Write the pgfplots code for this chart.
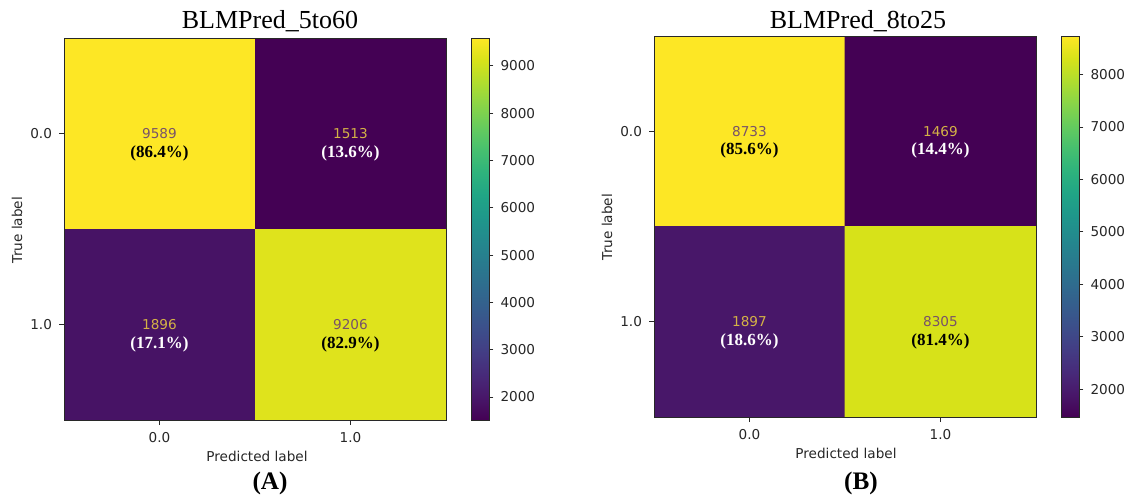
\documentclass[border=0pt]{standalone}
\usepackage{pgfplots}
\pgfplotsset{compat=1.18}
\usepackage{fontspec}
\setmainfont{Liberation Serif}
\newfontfamily\dejavu{DejaVu Sans}
\definecolor{cntdark}{RGB}{120,82,105}
\definecolor{cntlight}{RGB}{212,178,70}
\definecolor{spine}{RGB}{40,40,40}
\pgfplotsset{
  cmstyle/.style={
    scale only axis, width=191pt, height=191pt,
    anchor=south west,
    axis on top,
    colormap/viridis,
    xmin=-0.5, xmax=1.5, ymin=-0.5, ymax=1.5,
    y dir=reverse,
    xtick={0,1}, ytick={0,1},
    xticklabels={0.0,1.0}, yticklabels={0.0,1.0},
    xtick pos=bottom, ytick pos=left,
    tick align=outside, major tick length=2.5pt,
    tick style={spine, line width=0.4pt},
    axis line style={spine, line width=0.45pt},
    ticklabel style={font=\dejavu\fontsize{6.8}{8}\selectfont, text=black!85},
    /pgf/number format/assume math mode=true,
    /pgf/number format/1000 sep={},
    colorbar,
    colorbar style={
      scale only axis, width=9pt, height=191pt,
      at={(parent axis.north east)}, anchor=north west, xshift=4pt,
      axis on top,
      ytick={2000,3000,...,9000},
      ytick pos=right, yticklabel pos=right,
      tick align=outside, major tick length=2.2pt,
      tick style={spine, line width=0.4pt},
      axis line style={spine, line width=0.45pt},
      scaled y ticks=false,
      yticklabel style={font=\dejavu\fontsize{6.8}{8}\selectfont, text=black!85},
      /pgf/number format/assume math mode=true,
      /pgf/number format/1000 sep={},
    },
  },
  cnt/.style={only marks, mark=*, mark size=0pt, mark options={draw=none, fill=none},
    nodes near coords, point meta=explicit symbolic,
    nodes near coords style={anchor=center, inner sep=0pt, font=\dejavu\fontsize{6.8}{8}\selectfont, text=#1}},
  pct/.style={only marks, mark=*, mark size=0pt, mark options={draw=none, fill=none},
    nodes near coords, point meta=explicit symbolic,
    nodes near coords style={anchor=center, inner sep=0pt, yshift=-9.8pt, font=\bfseries\fontsize{8.5}{10}\selectfont, text=#1}},
}
\begin{document}
\begin{tikzpicture}
\path[use as bounding box] (0,0) rectangle (566pt,247.5pt);
% ---------------- (A) ----------------
\begin{axis}[cmstyle, at={(32pt,37.5pt)}]
\addplot[matrix plot*, mesh/cols=2, point meta=explicit] table[meta=C] {
x y C
0 0 9589
1 0 1513
0 1 1896
1 1 9206
};
\addplot[cnt=cntdark] table[meta=L] {
x y L
0 0 9589
1 1 9206
};
\addplot[cnt=cntlight] table[meta=L] {
x y L
1 0 1513
0 1 1896
};
\addplot[pct=black] table[meta=L] {
x y L
0 0 (86.4\%)
1 1 (82.9\%)
};
\addplot[pct=white] table[meta=L] {
x y L
1 0 (13.6\%)
0 1 (17.1\%)
};
\end{axis}
% ---------------- (B) ----------------
\begin{axis}[cmstyle, at={(327pt,39pt)}, height=190.5pt,
  colorbar style={height=190.5pt, ytick={2000,3000,...,8000}}]
\addplot[matrix plot*, mesh/cols=2, point meta=explicit] table[meta=C] {
x y C
0 0 8733
1 0 1469
0 1 1897
1 1 8305
};
\addplot[cnt=cntdark] table[meta=L] {
x y L
0 0 8733
1 1 8305
};
\addplot[cnt=cntlight] table[meta=L] {
x y L
1 0 1469
0 1 1897
};
\addplot[pct=black] table[meta=L] {
x y L
0 0 (85.6\%)
1 1 (81.4\%)
};
\addplot[pct=white] table[meta=L] {
x y L
1 0 (14.4\%)
0 1 (18.6\%)
};
\end{axis}
% ---------------- texts ----------------
\node[anchor=base, font=\fontsize{13}{15}\selectfont] at (135pt,233.5pt) {BLMPred\_5to60};
\node[anchor=base, font=\fontsize{13}{15}\selectfont] at (429pt,233.5pt) {BLMPred\_8to25};
\node[anchor=base, font=\dejavu\fontsize{6.8}{8}\selectfont, text=black!85] at (128.5pt,17pt) {Predicted label};
\node[anchor=base, font=\dejavu\fontsize{6.8}{8}\selectfont, text=black!85] at (423pt,18.5pt) {Predicted label};
\node[rotate=90, font=\dejavu\fontsize{6.8}{8}\selectfont, text=black!85] at (8.5pt,132.5pt) {True label};
\node[rotate=90, font=\dejavu\fontsize{6.8}{8}\selectfont, text=black!85] at (303.5pt,134pt) {True label};
\node[anchor=base, font=\bfseries\fontsize{12.6}{14}\selectfont] at (135pt,3pt) {(A)};
\node[anchor=base, font=\bfseries\fontsize{12.6}{14}\selectfont] at (430.5pt,3pt) {(B)};
\end{tikzpicture}
\end{document}
